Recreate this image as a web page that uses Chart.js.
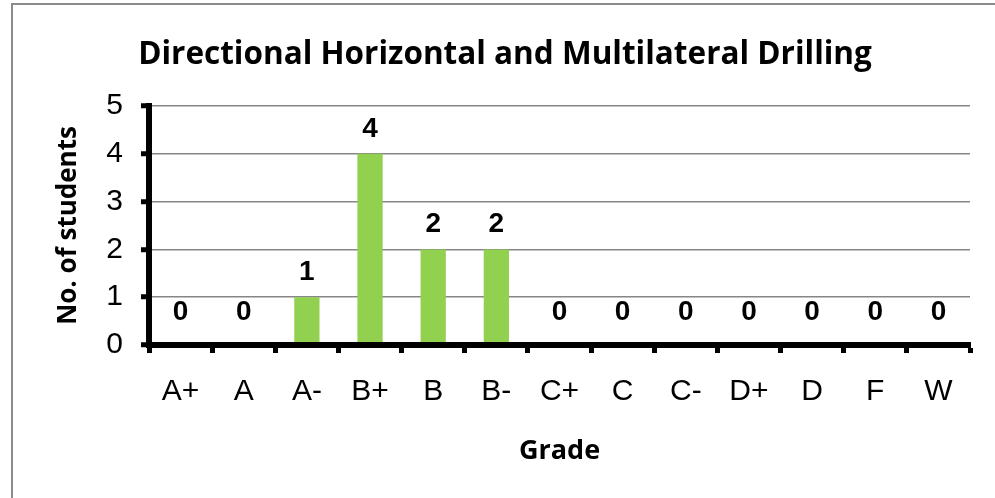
<!DOCTYPE html>
<html>
<head>
<meta charset="utf-8">
<script src="https://cdn.jsdelivr.net/npm/chart.js@4/dist/chart.umd.min.js"></script>
<style>
  html, body { margin: 0; padding: 0; background: #fff; }
  #wrap { position: relative; width: 995px; height: 498px; }
  #frame { position: absolute; left: 11px; top: 3px; right: -10px; bottom: -10px; border: 2px solid #8c8c8c; }
  canvas { position: absolute; left: 0; top: 0; }
</style>
</head>
<body>
<div id="wrap">
  <div id="frame"></div>
  <canvas id="gradeChart" width="995" height="498"></canvas>
</div>
<script>
// Datos del gráfico
const grades = ['A+', 'A', 'A-', 'B+', 'B', 'B-', 'C+', 'C', 'C-', 'D+', 'D', 'F', 'W'];
const students = [0, 0, 1, 4, 2, 2, 0, 0, 0, 0, 0, 0, 0];
const yTicks = [0, 1, 2, 3, 4, 5];

const chartTitle = 'Directional Horizontal and Multilateral Drilling';
const xTitle = 'Grade';
const yTitle = 'No. of students';

// Etiquetas de valor encima de cada barra
const valueLabels = {
    id: 'valueLabels',
    afterDatasetsDraw(chart) {
        const ctx = chart.ctx;
        const meta = chart.getDatasetMeta(0);
        ctx.save();
        ctx.font = 'bold 28px "Liberation Sans", Arial, sans-serif';
        ctx.fillStyle = '#000';
        ctx.textAlign = 'center';
        ctx.textBaseline = 'alphabetic';
        meta.data.forEach((bar, i) => {
            const v = students[i];
            const gap = v === 0 ? 25 : 17;
            ctx.fillText(String(v), bar.x, bar.y - gap);
        });
        ctx.restore();
    }
};

const ctx = document.getElementById('gradeChart').getContext('2d');
new Chart(ctx, {
    type: 'bar',
    data: {
        labels: grades,
        datasets: [{
            label: yTitle,
            data: students,
            backgroundColor: '#92d050',
            borderWidth: 0,
            categoryPercentage: 1,
            barPercentage: 0.4
        }]
    },
    options: {
        responsive: false,
        animation: false,
        layout: { padding: { left: 15, right: 0, top: 0, bottom: 0 } },
        plugins: {
            legend: { display: false },
            tooltip: { enabled: false },
            title: {
                display: true,
                text: chartTitle,
                color: '#000',
                font: { family: '"Open Sans"', weight: 'bold', size: 31.5 },
                padding: { top: 36, bottom: 32.2 }
            }
        },
        scales: {
            x: {
                grid: {
                    display: true,
                    drawOnChartArea: false,
                    drawTicks: true,
                    offset: true,
                    tickLength: 8,
                    tickWidth: 5,
                    tickColor: '#000'
                },
                border: { display: true, color: '#000', width: 6, z: 1 },
                ticks: {
                    color: '#000',
                    padding: 21,
                    font: { family: '"Liberation Sans", Arial', size: 30 }
                },
                title: {
                    display: true,
                    text: xTitle,
                    color: '#000',
                    font: { family: '"Open Sans"', weight: 'bold', size: 27 },
                    padding: { top: 0, bottom: 30 }
                },
                afterFit(scale) { scale.height = 498 - 345; }
            },
            y: {
                min: 0,
                max: 5,
                afterBuildTicks(scale) { scale.ticks = yTicks.map(v => ({ value: v })); },
                grid: {
                    color: '#868686',
                    lineWidth: 1.5,
                    drawTicks: true,
                    tickLength: 8,
                    tickWidth: 5,
                    tickColor: '#000'
                },
                border: { display: true, color: '#000', width: 6, z: 1 },
                ticks: {
                    color: '#000',
                    padding: 18,
                    font: { family: '"Liberation Sans", Arial', size: 30 }
                },
                title: {
                    display: true,
                    text: yTitle,
                    color: '#000',
                    font: { family: '"Open Sans"', weight: 'bold', size: 26 },
                    padding: { top: 38, bottom: 0 }
                },
                afterFit(scale) { scale.width = 149 - 15; }
            },
            yRight: {
                position: 'right',
                display: true,
                grid: { display: false },
                border: { display: false },
                ticks: { display: false },
                afterFit(scale) { scale.width = 995 - 970; }
            }
        }
    },
    plugins: [valueLabels]
});
</script>
</body>
</html>
